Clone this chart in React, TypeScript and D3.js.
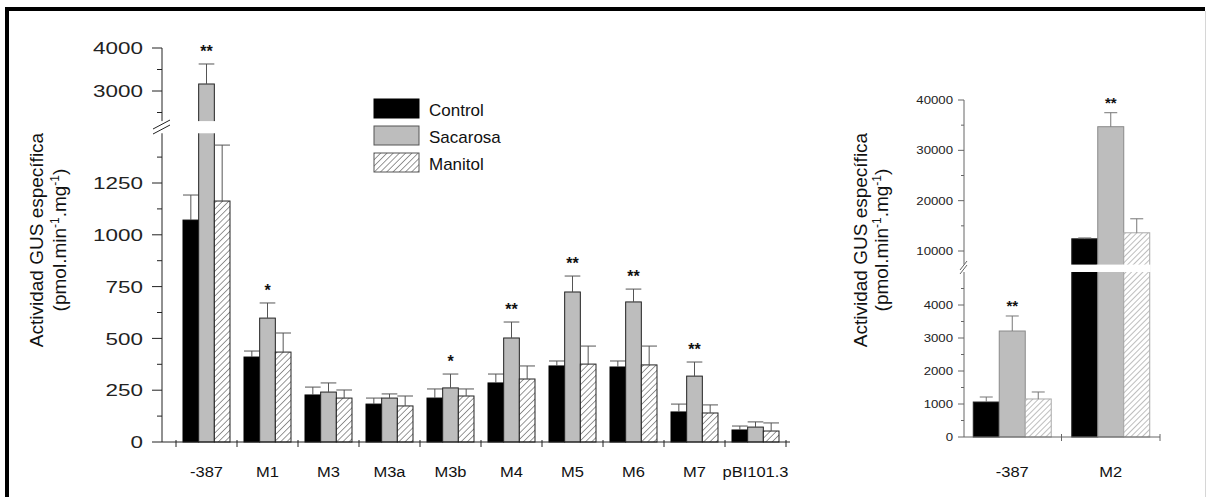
import React from "react";
import * as d3 from "d3";

// ---------- Data ----------
const seriesNames = ["Control", "Sacarosa", "Manitol"];

const categoriesLeft = ["-387", "M1", "M3", "M3a", "M3b", "M4", "M5", "M6", "M7", "pBI101.3"];
const controlLeft = [1071, 410, 227, 183, 212, 285, 367, 362, 145, 58];
const controlErrLeft = [121, 29, 38, 29, 44, 43, 24, 29, 38, 19];
const sacarosaLeft = [3163, 598, 241, 212, 261, 502, 724, 676, 318, 72];
const sacarosaErrLeft = [465, 73, 44, 20, 67, 77, 77, 62, 68, 25];
const manitolLeft = [1163, 434, 212, 174, 222, 304, 376, 372, 140, 53];
const manitolErrLeft = [270, 92, 39, 48, 34, 63, 87, 91, 39, 39];
const signifLeft = ["**", "*", "", "", "*", "**", "**", "**", "**", ""];

const categoriesRight = ["-387", "M2"];
const controlRight = [1060, 12425];
const controlErrRight = [152, 175];
const sacarosaRight = [3212, 34692];
const sacarosaErrRight = [455, 2783];
const manitolRight = [1152, 13618];
const manitolErrRight = [212, 2782];
const signifRight = ["**", "**"];

const leftLowerTicks = [0, 250, 500, 750, 1000, 1250];
const leftUpperTicks = [3000, 4000];
const rightLowerTicks = [0, 1000, 2000, 3000, 4000];
const rightUpperTicks = [10000, 20000, 30000, 40000];

const FONT = "'Liberation Sans', Arial, sans-serif";

type Panel = {
  cats: string[];
  vals: number[][];
  errs: number[][];
  sig: string[];
  lower: d3.ScaleLinear<number, number>;
  upper: d3.ScaleLinear<number, number>;
  lowerMax: number;
  upperMin: number;
  x: d3.ScaleBand<string>;
  sub: d3.ScaleBand<string>;
  fills: string[];
  strokes: string[];
  errColor: string;
  capW: number;
  starSize: number;
  starOff: number;
};

function Bars({ p }: { p: Panel }) {
  const out: React.ReactNode[] = [];
  p.cats.forEach((c, i) => {
    seriesNames.forEach((s, k) => {
      const v = p.vals[k][i];
      const e = p.errs[k][i];
      const x0 = (p.x(c) as number) + (p.sub(s) as number);
      const w = p.sub.bandwidth();
      const y0 = p.lower(0);
      const cx = x0 + w / 2;
      const yv = v <= p.lowerMax ? p.lower(v) : p.upper(v);
      out.push(
        <rect key={`b${i}${k}`} x={x0} y={yv} width={w} height={y0 - yv}
          fill={p.fills[k]} stroke={p.strokes[k]} strokeWidth={1} />
      );
      if (v > p.lowerMax) {
        const g1 = p.upper(p.upperMin);
        const g2 = p.lower(p.lowerMax);
        out.push(
          <rect key={`g${i}${k}`} x={x0 - 1} y={g1} width={w + 2} height={g2 - g1} fill="#fff" />
        );
      }
      const top = v + e;
      const yt = top <= p.lowerMax ? p.lower(top) : p.upper(top);
      out.push(
        <g key={`e${i}${k}`} stroke={p.errColor} strokeWidth={1}>
          <line x1={cx} x2={cx} y1={yv} y2={yt} />
          <line x1={cx - p.capW / 2} x2={cx + p.capW / 2} y1={yt} y2={yt} />
        </g>
      );
      if (k === 1 && p.sig[i]) {
        out.push(
          <text key={`s${i}`} x={cx} y={yt - p.starOff} textAnchor="middle" fontFamily={FONT}
            fontWeight="bold" fontSize={p.starSize} fill="#111">{p.sig[i]}</text>
        );
      }
    });
  });
  return <g>{out}</g>;
}

function Title({ cy, b1, b2 }: { cy: number; b1: number; b2: number }) {
  return (
    <g fontFamily={FONT} fontSize={19} fill="#111">
      <text transform={`translate(${b1},${cy}) rotate(-90)`} textAnchor="middle">Actividad GUS específica</text>
      <text transform={`translate(${b2},${cy}) rotate(-90)`} textAnchor="middle">
        (pmol.min<tspan fontSize={12} dy={-7}>-1</tspan><tspan dy={7}>.mg</tspan>
        <tspan fontSize={12} dy={-7}>-1</tspan><tspan dy={7}>)</tspan>
      </text>
    </g>
  );
}

export default function App() {
  // ---------- Left panel scales ----------
  const lowerL = d3.scaleLinear().domain([0, 1250]).range([442, 183]);
  const upperL = d3.scaleLinear().domain([3000, 4000]).range([91, 48]);
  const xL = d3.scaleBand<string>().domain(categoriesLeft).range([176, 786]).paddingInner(0).paddingOuter(0);
  const subL = d3.scaleBand<string>().domain(seriesNames).range([0, xL.bandwidth()]).paddingInner(0).paddingOuter(0.447);

  const left: Panel = {
    cats: categoriesLeft,
    vals: [controlLeft, sacarosaLeft, manitolLeft],
    errs: [controlErrLeft, sacarosaErrLeft, manitolErrLeft],
    sig: signifLeft,
    lower: lowerL, upper: upperL, lowerMax: 1490, upperMin: 2300,
    x: xL, sub: subL,
    fills: ["#000", "#bdbdbd", "url(#hatchL)"],
    strokes: ["#000", "#222", "#222"],
    errColor: "#555", capW: subL.bandwidth(), starSize: 16, starOff: 7,
  };

  // ---------- Right panel scales ----------
  const lowerR = d3.scaleLinear().domain([0, 4000]).range([437, 305]);
  const upperR = d3.scaleLinear().domain([10000, 40000]).range([251, 100]);
  const xR = d3.scaleBand<string>().domain(categoriesRight).range([963, 1160]).paddingInner(0).paddingOuter(0);
  const subR = d3.scaleBand<string>().domain(seriesNames).range([0, xR.bandwidth()]).paddingInner(0).paddingOuter(0.395);

  const right: Panel = {
    cats: categoriesRight,
    vals: [controlRight, sacarosaRight, manitolRight],
    errs: [controlErrRight, sacarosaErrRight, manitolErrRight],
    sig: signifRight,
    lower: lowerR, upper: upperR, lowerMax: 5000, upperMin: 7300,
    x: xR, sub: subR,
    fills: ["#000", "#bdbdbd", "url(#hatchR)"],
    strokes: ["#222", "#8a8a8a", "#aaa"],
    errColor: "#777", capW: 13, starSize: 15, starOff: 5,
  };

  const axL = 162;
  const axR = 964;

  const leftLowerMinor = d3.range(125, 1490, 250);
  const leftUpperMinor = [2500, 3500];
  const rightLowerMinor = d3.range(500, 5000, 1000);
  const rightUpperMinor = [15000, 25000, 35000];

  const xTicksL = [...categoriesLeft.map((c) => xL(c) as number), xL.range()[1]];
  const xTicksR = [...categoriesRight.map((c) => xR(c) as number).slice(1), xR.range()[1]];

  return (
    <svg width={1206} height={497} style={{ position: "absolute", left: 0, top: 0, background: "#fff" }}>
      <defs>
        <pattern id="hatchL" patternUnits="userSpaceOnUse" width={4.4} height={4.4} patternTransform="rotate(45)">
          <rect width={4.4} height={4.4} fill="#fff" />
          <line x1={0} y1={0} x2={0} y2={4.4} stroke="#444" strokeWidth={1.1} />
        </pattern>
        <pattern id="hatchR" patternUnits="userSpaceOnUse" width={4} height={4} patternTransform="rotate(45)">
          <rect width={4} height={4} fill="#fff" />
          <line x1={0} y1={0} x2={0} y2={4} stroke="#888" strokeWidth={1.1} />
        </pattern>
      </defs>

      {/* frame */}
      <rect x={5} y={7} width={1200} height={4} fill="#000" />
      <rect x={5} y={7} width={4} height={490} fill="#000" />
      <line x1={1205.5} x2={1205.5} y1={11} y2={497} stroke="#d6d6d6" strokeWidth={1} />

      {/* ---------- LEFT PANEL ---------- */}
      <Title cy={240} b1={43} b2={66} />
      <Bars p={left} />
      <g stroke="#222" strokeWidth={1} fill="none">
        <line x1={axL} x2={axL} y1={442} y2={lowerL(1490)} />
        <line x1={axL} x2={axL} y1={upperL(4000)} y2={upperL(2300)} />
        <line x1={153} y1={129} x2={170} y2={120} />
        <line x1={153} y1={134} x2={170} y2={125} />
        <line x1={axL} x2={790} y1={442} y2={442} />
        {xTicksL.map((t, i) => (
          <line key={`xt${i}`} x1={t} x2={t} y1={440} y2={447} />
        ))}
        {leftLowerTicks.map((t) => (
          <line key={`lt${t}`} x1={axL - 10} x2={axL} y1={lowerL(t)} y2={lowerL(t)} />
        ))}
        {leftUpperTicks.map((t) => (
          <line key={`ut${t}`} x1={axL - 10} x2={axL} y1={upperL(t)} y2={upperL(t)} />
        ))}
        {leftLowerMinor.map((t) => (
          <line key={`lm${t}`} x1={axL - 5} x2={axL} y1={lowerL(t)} y2={lowerL(t)} />
        ))}
        {leftUpperMinor.map((t) => (
          <line key={`um${t}`} x1={axL - 5} x2={axL} y1={upperL(t)} y2={upperL(t)} />
        ))}
      </g>
      <g fontFamily={FONT} fontSize={17} fill="#222">
        {[...leftLowerTicks.map((t) => [t, lowerL(t)]), ...leftUpperTicks.map((t) => [t, upperL(t)])].map(([t, y]) => (
          <text key={`ll${t}`} transform={`translate(143,${y}) scale(1.32,1)`} textAnchor="end" dy="0.36em">{t}</text>
        ))}
      </g>
      <g fontFamily={FONT} fontSize={15} fill="#111">
        {categoriesLeft.map((c) => (
          <text key={`xl${c}`} transform={`translate(${(xL(c) as number) + xL.bandwidth() / 2},477) scale(1.1,1)`} textAnchor="middle">{c}</text>
        ))}
      </g>

      {/* legend */}
      <g fontFamily={FONT} fontSize={17} fill="#111">
        {seriesNames.map((s, k) => (
          <g key={`lg${s}`} transform={`translate(374,${99 + k * 27})`}>
            <rect x={0} y={0} width={45} height={19} fill={left.fills[k]} stroke={k === 0 ? "#000" : "#555"} strokeWidth={1} />
            <text x={55} y={16.5}>{s}</text>
          </g>
        ))}
      </g>

      {/* ---------- RIGHT PANEL ---------- */}
      <Title cy={240} b1={867} b2={888} />
      <Bars p={right} />
      <g stroke="#666" strokeWidth={1} fill="none">
        <line x1={axR} x2={axR} y1={437} y2={lowerR(5000)} />
        <line x1={axR} x2={axR} y1={upperR(40000)} y2={upperR(7300)} />
        <line x1={960} y1={270} x2={967} y2={261} />
        <line x1={960} y1={274} x2={967} y2={265} />
        <line x1={axR} x2={1160} y1={437} y2={437} />
        {xTicksR.map((t, i) => (
          <line key={`rxt${i}`} x1={t} x2={t} y1={434} y2={441} />
        ))}
        {rightLowerTicks.map((t) => (
          <line key={`rlt${t}`} x1={axR - 6} x2={axR} y1={lowerR(t)} y2={lowerR(t)} />
        ))}
        {rightUpperTicks.map((t) => (
          <line key={`rut${t}`} x1={axR - 6} x2={axR} y1={upperR(t)} y2={upperR(t)} />
        ))}
        {rightLowerMinor.map((t) => (
          <line key={`rlm${t}`} x1={axR - 3} x2={axR} y1={lowerR(t)} y2={lowerR(t)} />
        ))}
        {rightUpperMinor.map((t) => (
          <line key={`rum${t}`} x1={axR - 3} x2={axR} y1={upperR(t)} y2={upperR(t)} />
        ))}
      </g>
      <g fontFamily={FONT} fontSize={11} fill="#222">
        {[...rightLowerTicks.map((t) => [t, lowerR(t)]), ...rightUpperTicks.map((t) => [t, upperR(t)])].map(([t, y]) => (
          <text key={`rl${t}`} transform={`translate(953,${y}) scale(1.2,1)`} textAnchor="end" dy="0.36em">{t}</text>
        ))}
      </g>
      <g fontFamily={FONT} fontSize={15} fill="#111">
        {categoriesRight.map((c) => (
          <text key={`xr${c}`} transform={`translate(${(xR(c) as number) + xR.bandwidth() / 2},477) scale(1.1,1)`} textAnchor="middle">{c}</text>
        ))}
      </g>
    </svg>
  );
}
